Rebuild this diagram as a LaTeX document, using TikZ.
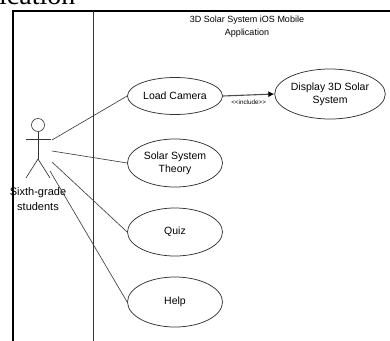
\documentclass[tikz,border=0pt]{standalone}
\usepackage{fontspec}
\setmainfont{Liberation Sans}
\newfontfamily\capfont{Liberation Serif}
\usetikzlibrary{shapes.geometric,arrows.meta}
\begin{document}
\begin{tikzpicture}[x=1pt,y=-1pt,
  usecase/.style={ellipse,draw=black!80,line width=0.75pt,minimum width=95pt,minimum height=48pt,inner sep=0pt,align=center,font=\fontsize{10.5}{13}\selectfont},
  conn/.style={draw=black!75,line width=0.65pt},
  actorline/.style={draw=black!80,line width=0.65pt}]
\useasboundingbox (0,0) rectangle (390,340);
\begin{scope}
\clip (0,0) rectangle (390,340);
\node[anchor=base west,inner sep=0pt,font=\capfont\fontsize{28}{30}\selectfont] (frag) at (-1,5) {ication};
% frame
\draw[line width=2pt,black] (13,345) -- (13,11) -- (395,11);
\draw[line width=0.7pt,black!80] (93,11) -- (93,345);
\end{scope}
\node[align=center,font=\fontsize{9}{12.5}\selectfont] (title) at (247,26.5) {3D Solar System iOS Mobile\\Application};
% actor
\draw[actorline] (38,125) circle (6.5);
\coordinate (neck) at (38,131.5);
\coordinate (hip) at (38,159);
\draw[actorline] (neck) -- (hip);
\draw[actorline] (26,139) -- (51,139);
\draw[actorline] (hip) -- (26,178);
\draw[actorline] (hip) -- (50,178);
\node[align=center,font=\fontsize{11}{15.5}\selectfont] (actor) at (38,199) {Sixth-grade\\students};
\coordinate (a1) at (52,140);
\coordinate (a2) at (52,151);
\coordinate (a3) at (52,162);
\coordinate (a4) at (50,171);
% use cases
\node[usecase,minimum height=37pt] (lc) at (175,96) {Load Camera};
\node[usecase,minimum height=50pt] (d3) at (330,94) {Display 3D Solar\\System};
\node[usecase] (sst) at (175,163) {Solar System\\Theory};
\node[usecase] (quiz) at (175,232) {Quiz};
\node[usecase,minimum height=50pt] (help) at (175,302) {Help};
% connectors
\draw[conn] (a1) -- (lc.west);
\draw[conn] (a2) -- (sst.west);
\draw[conn] (a3) -- (quiz.west);
\draw[conn] (a4) -- (help.west);
\draw[draw=black!70,line width=1.1pt,-{Latex[length=6pt,width=6pt,black]}] (lc.east) -- node[below=1pt,font=\fontsize{6.3}{7}\selectfont,text=black] (inc) {{<}{<}include{>}{>}} (d3.west);
\end{tikzpicture}
\end{document}
